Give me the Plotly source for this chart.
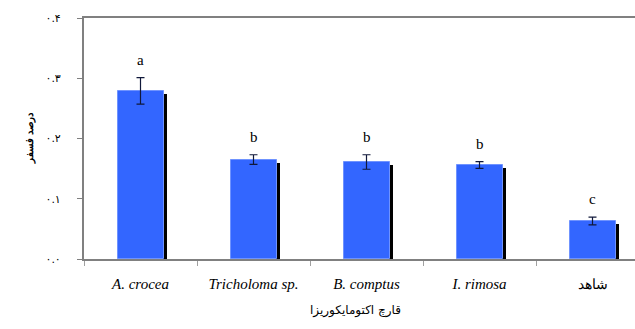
import plotly.graph_objects as go

categories = ["A. crocea", "Tricholoma sp.", "B. comptus", "I. rimosa", "شاهد"]
tick_text = ["<i>A. crocea</i>", "<i>Tricholoma sp.</i>", "<i>B. comptus</i>", "<i>I. rimosa</i>",
             "<span style='font-family:Noto Sans;font-size:14px'>شاهد</span>"]
phosphorus = [0.279, 0.165, 0.161, 0.156, 0.063]
errors = [0.022, 0.008, 0.012, 0.0055, 0.0065]
letters = ["a", "b", "b", "b", "c"]
y_tickvals = [0.0, 0.1, 0.2, 0.3, 0.4]
y_ticktext = ["۰.۰", "۰.۱", "۰.۲", "۰.۳", "۰.۴"]

bar_w = 0.407
shadow_shift = 0.031
shadow_drop = 0.005

fig = go.Figure()
fig.add_trace(go.Bar(
    x=categories, y=[v - shadow_drop for v in phosphorus],
    width=bar_w, offset=-bar_w / 2 + shadow_shift,
    marker=dict(color="#000000", line=dict(width=0)),
    showlegend=False, hoverinfo="skip"))
fig.add_trace(go.Bar(
    x=categories, y=phosphorus,
    width=bar_w, offset=-bar_w / 2,
    marker=dict(color="#3366FF", line=dict(color="#6F93FF", width=1)),
    error_y=dict(type="data", array=errors, color="#10183A", thickness=1.2, width=4),
    showlegend=False))

for c, v, e, l in zip(categories, phosphorus, errors, letters):
    fig.add_annotation(x=c, y=v + e + 0.03, text=l, showarrow=False,
                       font=dict(family="Liberation Serif", size=15, color="#000"))

fig.add_annotation(xref="paper", yref="paper", x=0.492, y=-0.174, text="قارچ اکتومایکوریزا",
                   showarrow=False, yanchor="top",
                   font=dict(family="DejaVu Sans", size=12, color="#000"))
fig.add_annotation(xref="paper", yref="paper", x=-0.117, y=0.5, text="<b>درصد فسفر</b>",
                   showarrow=False, textangle=-90,
                   font=dict(family="Noto Sans", size=10, color="#000"))

fig.update_layout(
    width=635, height=329,
    margin=dict(l=84, r=0, t=18, b=70),
    paper_bgcolor="white", plot_bgcolor="white",
    barmode="overlay", bargap=0,
    xaxis=dict(
        type="category", range=[-0.5, -0.5 + 551 / 113],
        tickmode="array", tickvals=categories, ticktext=tick_text,
        tickson="boundaries", ticks="outside", ticklen=5, tickcolor="#A0A0A0",
        showline=True, linecolor="#808080", linewidth=2, mirror=True,
        showgrid=False, zeroline=False,
        tickfont=dict(family="Liberation Serif", size=15, color="#000"),
        ticklabelstandoff=10),
    yaxis=dict(
        range=[0, 0.4], tickvals=y_tickvals, ticktext=y_ticktext,
        ticks="outside", ticklen=5, tickcolor="#808080",
        showline=True, linecolor="#808080", linewidth=2,
        showgrid=False, zeroline=False,
        tickfont=dict(family="DejaVu Sans", size=11, color="#000"),
        ticklabelstandoff=14),
)

fig.write_html("out.html", config={"displayModeBar": False},
               post_script="document.body.style.margin='0px';document.body.style.overflow='hidden';")
